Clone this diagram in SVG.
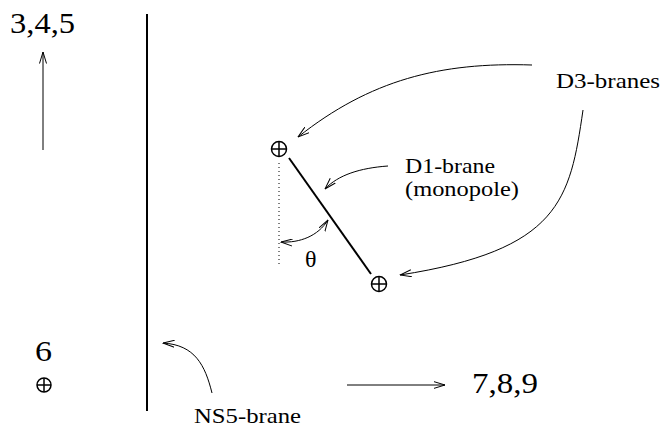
<svg xmlns="http://www.w3.org/2000/svg" width="664" height="430" viewBox="0 0 664 430">
<defs>
<style>
.t{font-family:"Liberation Serif","Times New Roman",serif;fill:#000}
.big{font-size:29px}
.lbl{font-size:21px}
.ln{fill:none;stroke:#000;stroke-width:1}
.oplus circle,.oplus line{fill:none;stroke:#000;stroke-width:1.5}
</style>
<marker id="ah" viewBox="0 0 12 8" refX="11.5" refY="4" markerWidth="12" markerHeight="8" markerUnits="userSpaceOnUse" orient="auto-start-reverse">
<path d="M0,0.5 L11.5,4 L0,7.5" fill="none" stroke="#000" stroke-width="1"/>
</marker>
</defs>
<rect width="664" height="430" fill="#fff"/>

<g id="ns5-line"><line x1="147" y1="14" x2="147" y2="411" stroke="#000" stroke-width="2"/></g>

<g id="axis-345">
<text class="t big" x="10" y="33" textLength="65" lengthAdjust="spacingAndGlyphs">3,4,5</text>
</g>
<g id="axis-6">
<text class="t big" x="35" y="361" textLength="17" lengthAdjust="spacingAndGlyphs">6</text>
<g class="oplus"><circle cx="44" cy="385" r="7"/><line x1="37" y1="385" x2="51" y2="385"/><line x1="44" y1="378" x2="44" y2="392"/></g>
</g>
<g id="axis-789">
<text class="t big" x="472" y="393" textLength="66" lengthAdjust="spacingAndGlyphs">7,8,9</text>
</g>

<g id="d3-top" class="oplus"><circle cx="279" cy="149" r="7.5"/><line x1="271.5" y1="149" x2="286.5" y2="149"/><line x1="279" y1="141.5" x2="279" y2="156.5"/></g>
<g id="d3-bottom" class="oplus"><circle cx="379" cy="284" r="7.5"/><line x1="371.5" y1="284" x2="386.5" y2="284"/><line x1="379" y1="276.5" x2="379" y2="291.5"/></g>

<g id="d1-brane"><line x1="289" y1="158" x2="371" y2="274" stroke="#000" stroke-width="2"/></g>
<g id="vertical-ref"><line x1="279" y1="163" x2="279" y2="264" stroke="#000" stroke-width="1" stroke-dasharray="1,3"/></g>

<g id="theta"><text class="t" x="305" y="267" font-size="24">θ</text></g>
<g id="label-d1"><text class="t lbl" x="405" y="173" textLength="90" lengthAdjust="spacingAndGlyphs">D1-brane</text><text class="t lbl" x="405" y="196" textLength="114" lengthAdjust="spacingAndGlyphs">(monopole)</text></g>
<g id="label-d3"><text class="t lbl" x="556" y="88" textLength="104" lengthAdjust="spacingAndGlyphs">D3-branes</text></g>
<g id="label-ns5"><text class="t lbl" x="194" y="423" textLength="107" lengthAdjust="spacingAndGlyphs">NS5-brane</text></g>

<g id="connectors">
<line class="ln" x1="43" y1="150" x2="43" y2="52" marker-end="url(#ah)"/>
<line class="ln" x1="347" y1="385" x2="445" y2="385" marker-end="url(#ah)"/>
<path class="ln" d="M532,65 C440,62 370,80 298,137" marker-end="url(#ah)"/>
<path class="ln" d="M583,110 C570,200 560,250 400,275" marker-end="url(#ah)"/>
<path class="ln" d="M388,166 C360,168 338,175 325,189" marker-end="url(#ah)"/>
<path class="ln" d="M281,242 C300,243 318,236 328,220" marker-start="url(#ah)" marker-end="url(#ah)"/>
<path class="ln" d="M212,393 C205,365 195,345 163,343" marker-end="url(#ah)"/>
</g>
</svg>
